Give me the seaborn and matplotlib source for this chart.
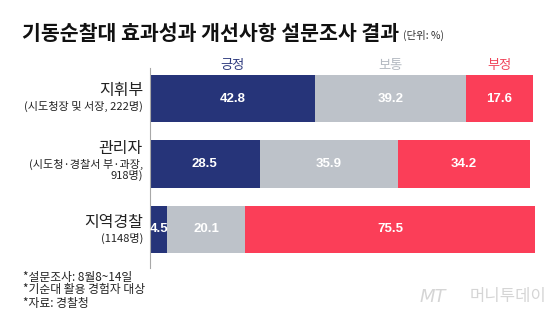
import matplotlib
matplotlib.use("Agg")
import matplotlib.pyplot as plt
import seaborn as sns
import pandas as pd

# ---- data ----
groups = ["지휘부", "관리자", "지역경찰"]
group_notes = ["(시도청장 및 서장, 222명)", "(시도청·경찰서 부·과장,\n918명)", "(1148명)"]
series = ["긍정", "보통", "부정"]
positive = [42.8, 28.5, 4.5]
neutral = [39.2, 35.9, 20.1]
negative = [17.6, 34.2, 75.5]
title = "기동순찰대 효과성과 개선사항 설문조사 결과"
unit = "(단위: %)"
footnotes = ["*설문조사: 8월8~14일", "*기순대 활용 경험자 대상", "*자료: 경찰청"]

NAVY = "#263479"
GRAY = "#BDC2C9"
RED = "#FB3E58"

sns.set_theme(style="white")
plt.rcParams["font.family"] = ["Noto Sans CJK KR", "DejaVu Sans"]

W, H = 560, 334
fig = plt.figure(figsize=(W / 100, H / 100), dpi=100)
fig.patch.set_facecolor("white")

def fx(px):
    return px / W

def fy(py):
    return 1 - py / H

ax = fig.add_axes([fx(150), fy(268), fx(535) - fx(150), (268 - 68) / H])

df = pd.DataFrame({
    "group": groups,
    "pos": positive,
    "neu": neutral,
    "neg": negative,
})
df["c1"] = df["pos"]
df["c2"] = df["pos"] + df["neu"]
df["c3"] = df["pos"] + df["neu"] + df["neg"]

bw = 0.718
sns.barplot(data=df, x="c3", y="group", color=RED, saturation=1, width=bw,
            orient="h", ax=ax, linewidth=0)
sns.barplot(data=df, x="c2", y="group", color=GRAY, saturation=1, width=bw,
            orient="h", ax=ax, linewidth=0)
sns.barplot(data=df, x="c1", y="group", color=NAVY, saturation=1, width=bw,
            orient="h", ax=ax, linewidth=0)

ax.set_xlim(0, 100)
ax.set_ylim(2.588, -0.466)
ax.set_xlabel("")
ax.set_ylabel("")
ax.set_xticks([])
ax.set_yticks([])
for s in ["top", "right", "bottom"]:
    ax.spines[s].set_visible(False)
ax.spines["left"].set_color("#A8A8A8")
ax.spines["left"].set_linewidth(0.8)
ax.set_facecolor("none")

# value labels
for i, row in df.iterrows():
    starts = [0, row["c1"], row["c2"]]
    vals = [row["pos"], row["neu"], row["neg"]]
    for s0, v in zip(starts, vals):
        ax.text(s0 + v / 2, i, f"{v:.1f}", ha="center", va="center",
                color="white", fontsize=9.5, fontweight="bold",
                family=["Liberation Sans", "DejaVu Sans"])

# legend-like header labels centered over first bar segments
leg_colors = ["#2E3B7E", "#B3B9C1", "#F0455A"]
r0 = df.iloc[0]
centers = [r0["pos"] / 2, r0["c1"] + r0["neu"] / 2, r0["c2"] + r0["neg"] / 2]
for lab, c, col in zip(series, centers, leg_colors):
    ax.text(c, -0.5, lab, ha="center", va="center", color=col, fontsize=9.5,
            transform=ax.transData, clip_on=False)

# category labels
main_y = [91, 149, 222]
note_y = [106, 170, 238]
for g, n, my, ny in zip(groups, group_notes, main_y, note_y):
    fig.text(fx(143), fy(my), g, ha="right", va="center", fontsize=11.5, color="#222222")
    fig.text(fx(143), fy(ny), n, ha="right", va="center", fontsize=8, color="#222222",
             linespacing=1.05, multialignment="right")

# title
fig.text(fx(22), fy(34), title, ha="left", va="center", fontsize=14.8,
         fontweight="heavy", color="#111111")
fig.text(fx(403), fy(35), unit, ha="left", va="center", fontsize=7.5, color="#333333")

# footnotes
for k, t in enumerate(footnotes):
    fig.text(fx(23), fy(277 + 13 * k), t, ha="left", va="center", fontsize=8.5, color="#222222")

# watermark
fig.text(fx(420), fy(297), "MT", ha="left", va="center", fontsize=13, style="italic",
         color="#D5D5D5", family=["DejaVu Sans"])
fig.text(fx(470), fy(297), "머니투데이", ha="left", va="center", fontsize=12,
         color="#D5D5D5", fontweight="light")

fig.savefig("out.png", dpi=100, facecolor="white")
